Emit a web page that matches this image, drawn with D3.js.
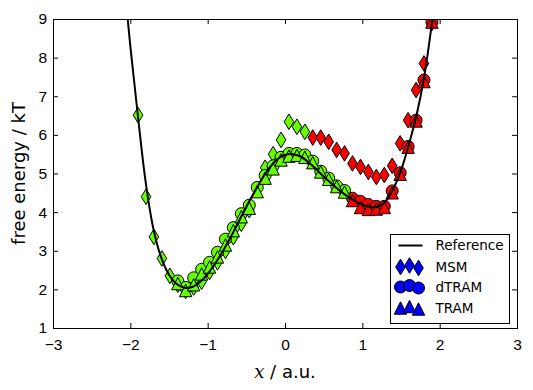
<!DOCTYPE html>
<html>
<head>
<meta charset="utf-8">
<script src="https://cdn.jsdelivr.net/npm/d3@7"></script>
<style>
  body { margin: 0; background: #fff; }
  svg { display: block; font-family: "DejaVu Sans", sans-serif; }
  .axis .tick text { font-size: 15.5px; fill: #000; }
  .axis .tick line { stroke: #000; stroke-width: 1; }
</style>
</head>
<body>
<div id="chart"></div>
<script>
const xTicks = [-3, -2, -1, 0, 1, 2, 3];
const yTicks = [1, 2, 3, 4, 5, 6, 7, 8, 9];

// reference free energy profile
const refX = [-2.1, -2.0, -1.9, -1.8, -1.7, -1.6, -1.5, -1.4, -1.3, -1.2, -1.1, -1.0, -0.9, -0.8, -0.7, -0.6, -0.5, -0.4, -0.3, -0.2, -0.1,
  0.0, 0.1, 0.2, 0.3, 0.4, 0.5, 0.6, 0.7, 0.8, 0.9, 1.0, 1.1, 1.2, 1.3, 1.4, 1.5, 1.6, 1.7, 1.8, 1.9, 2.0];
const refF = [10.4, 8.3, 6.45, 4.75, 3.55, 2.82, 2.38, 2.14, 2.04, 2.06, 2.19, 2.4, 2.68, 3.0, 3.36, 3.75, 4.14, 4.5, 4.85, 5.15, 5.37,
  5.48, 5.5, 5.44, 5.3, 5.12, 4.92, 4.74, 4.57, 4.42, 4.29, 4.19, 4.13, 4.14, 4.28, 4.6, 5.08, 5.74, 6.5, 7.5, 8.9, 10.5];

// bin centres
const binX = [-1.900, -1.797, -1.695, -1.592, -1.489, -1.386, -1.284, -1.181, -1.078, -0.976, -0.873, -0.770, -0.668,
  -0.565, -0.462, -0.359, -0.257, -0.154, -0.051, 0.051, 0.154, 0.257, 0.359, 0.462, 0.565, 0.668, 0.770, 0.873,
  0.976, 1.078, 1.181, 1.284, 1.386, 1.489, 1.592, 1.695, 1.797, 1.900];

const msm = [6.51, 4.40, 3.36, 2.80, 2.35, 2.12, 1.96, 2.05, 2.2, 2.45, 2.7, 3.0, 3.35, 3.7, 4.05, 4.6, 5.15, 5.5,
  5.87, 6.34, 6.21, 6.08, 5.93, 5.93, 5.82, 5.61, 5.52, 5.26, 5.17, 5.04, 4.91, 4.96, 5.2, 5.78, 6.38, 7.16, 7.85, 8.9];
const dtram = [null, null, null, null, null, 2.22, 2.05, 2.3, 2.52, 2.7, 2.96, 3.3, 3.6, 3.96, 4.18, 4.64, 4.95, 5.2,
  5.42, 5.52, 5.52, 5.48, 5.32, 5.06, 4.88, 4.68, 4.56, 4.36, 4.28, 4.2, 4.15, 4.15, 4.55, 5.02, 5.7, 6.38, 7.42, 8.92];
const tram = [null, null, null, null, null, 2.15, 1.97, 2.12, 2.4, 2.58, 2.84, 3.15, 3.52, 3.88, 4.1, 4.53, 4.88, 5.12,
  5.35, 5.45, 5.47, 5.42, 5.28, 5.04, 4.85, 4.66, 4.52, 4.3, 4.12, 4.07, 4.08, 4.12, 4.5, 4.98, 5.68, 6.36, 7.38, 8.92];

// first bin index drawn in the second colour
const msmSwitch = 22;
const dtramSwitch = 27;
const tramSwitch = 27;

const width = 533, height = 390;
const margin = { top: 19, right: 16, bottom: 62, left: 53 };
const w = width - margin.left - margin.right;
const h = height - margin.top - margin.bottom;
const colorA = '#66ff00', colorB = '#ff0000', legendColor = '#0000ff';

const shapes = {
  diamond: 'M0,-7.8L4.8,0L0,7.8L-4.8,0Z',
  circle: d3.symbol(d3.symbolCircle, Math.PI * 6 * 6)(),
  triangle: 'M0,-6.2L6.2,6.2L-6.2,6.2Z'
};

const series = [
  { name: 'MSM', values: msm, split: msmSwitch, shape: 'diamond' },
  { name: 'dTRAM', values: dtram, split: dtramSwitch, shape: 'circle' },
  { name: 'TRAM', values: tram, split: tramSwitch, shape: 'triangle' }
];

const svg = d3.select('#chart').append('svg')
  .attr('width', width)
  .attr('height', height);

svg.append('rect').attr('width', width).attr('height', height).attr('fill', '#fff');

svg.append('defs').append('clipPath').attr('id', 'plot-clip')
  .append('rect').attr('width', w).attr('height', h);

const g = svg.append('g').attr('transform', `translate(${margin.left},${margin.top})`);

const xScale = d3.scaleLinear().domain([-3, 3]).range([0, w]);
const yScale = d3.scaleLinear().domain([1, 9]).range([h, 0]);
const intFmt = d3.format('d');

function drawAxis() {
  g.append('g').attr('class', 'axis')
    .attr('transform', `translate(0,${h})`)
    .call(d3.axisBottom(xScale).tickValues(xTicks).tickFormat(intFmt).tickSize(-5).tickPadding(11))
    .call(a => a.select('.domain').remove());
  g.append('g').attr('class', 'axis')
    .call(d3.axisTop(xScale).tickValues(xTicks).tickSize(-5).tickFormat(''))
    .call(a => a.select('.domain').remove());
  g.append('g').attr('class', 'axis')
    .call(d3.axisLeft(yScale).tickValues(yTicks).tickFormat(intFmt).tickSize(-5).tickPadding(6))
    .call(a => a.select('.domain').remove());
  g.append('g').attr('class', 'axis')
    .attr('transform', `translate(${w},0)`)
    .call(d3.axisRight(yScale).tickValues(yTicks).tickSize(-5).tickFormat(''))
    .call(a => a.select('.domain').remove());

  g.append('rect')
    .attr('x', 0.5).attr('y', 0.5)
    .attr('width', w).attr('height', h)
    .attr('fill', 'none').attr('stroke', '#000').attr('stroke-width', 1);

  svg.append('text')
    .attr('transform', `translate(25,${margin.top + h / 2}) rotate(-90)`)
    .attr('text-anchor', 'middle')
    .attr('font-size', 18)
    .text('free energy / kT');

  const xl = svg.append('text')
    .attr('x', margin.left + w / 2).attr('y', 378)
    .attr('text-anchor', 'middle')
    .attr('font-size', 18);
  xl.append('tspan').attr('font-family', '"DejaVu Serif", serif').attr('font-style', 'italic').text('x');
  xl.append('tspan').text(' / a.u.');
}

function drawSeries() {
  const plot = g.append('g').attr('clip-path', 'url(#plot-clip)');

  series.forEach(s => {
    const pts = binX.map((x, i) => ({ x: x, f: s.values[i], i: i })).filter(d => d.f != null);
    plot.append('g').selectAll('path')
      .data(pts)
      .enter().append('path')
      .attr('d', shapes[s.shape])
      .attr('transform', d => `translate(${xScale(d.x)},${yScale(d.f)})`)
      .attr('fill', d => d.i < s.split ? colorA : colorB)
      .attr('stroke', '#000')
      .attr('stroke-width', 1);
  });

  const line = d3.line()
    .curve(d3.curveCatmullRom)
    .x((d, i) => xScale(refX[i]))
    .y(d => yScale(d));

  plot.append('path')
    .datum(refF)
    .attr('d', line)
    .attr('fill', 'none')
    .attr('stroke', '#000')
    .attr('stroke-width', 2);
}

function drawLegend() {
  const lg = svg.append('g').attr('transform', 'translate(390.5,234.5)');
  lg.append('rect').attr('width', 119).attr('height', 89)
    .attr('fill', '#fff').attr('stroke', '#000').attr('stroke-width', 1);

  const rowY = [11, 32.5, 52.5, 73.5];
  const textX = 45;

  lg.append('line').attr('x1', 8).attr('x2', 32).attr('y1', rowY[0]).attr('y2', rowY[0])
    .attr('stroke', '#000').attr('stroke-width', 2);
  lg.append('text').attr('x', textX).attr('y', rowY[0]).attr('dy', '0.36em')
    .attr('font-size', 13.5).text('Reference');

  const yOff = [0, -1.5, 1];
  series.forEach((s, k) => {
    const y = rowY[k + 1];
    [10, 19, 28].forEach((x, j) => {
      lg.append('path')
        .attr('d', shapes[s.shape])
        .attr('transform', `translate(${x},${y + yOff[j]})`)
        .attr('fill', legendColor).attr('stroke', '#000').attr('stroke-width', 1);
    });
    lg.append('text').attr('x', textX).attr('y', y).attr('dy', '0.36em')
      .attr('font-size', 13.5).text(s.name);
  });
}

drawSeries();
drawAxis();
drawLegend();
</script>
</body>
</html>
